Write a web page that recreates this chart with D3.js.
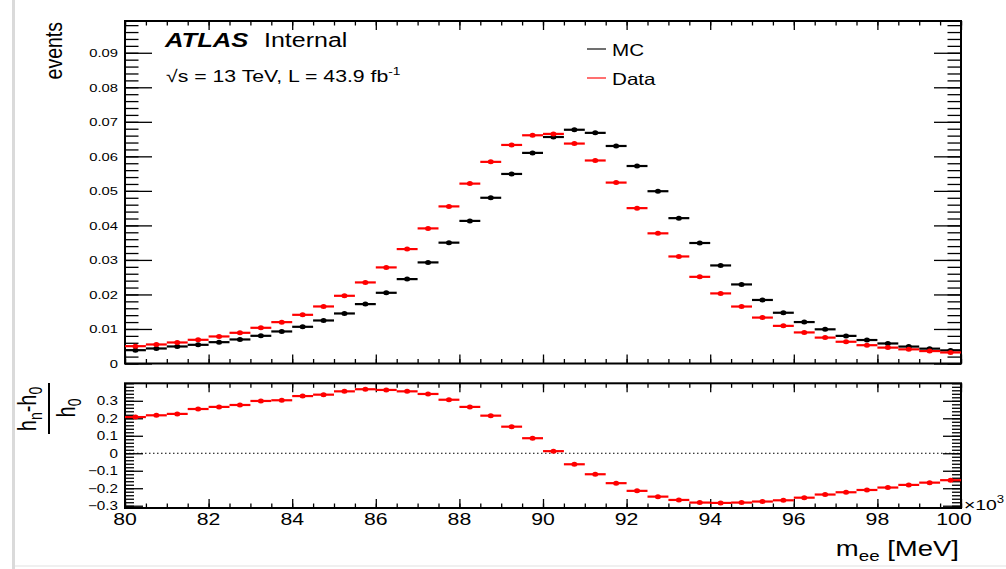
<!DOCTYPE html>
<html>
<head>
<meta charset="utf-8">
<script src="https://cdn.jsdelivr.net/npm/d3@7"></script>
<style>
  body { margin: 0; background: #fff; }
  text { font-family: "Liberation Sans", Arial, Helvetica, sans-serif; fill: #000; }
</style>
</head>
<body>
<svg id="chart" width="1006" height="569"></svg>
<script>
// bins: 40 bins of 0.5 between 80 and 100 (x10^3 in the label)
var xMin = 80, xMax = 100, binW = 0.5;
var binCenters = d3.range(xMin + binW / 2, xMax, binW);

// MC histogram (black)
var mcValues = [0.00386, 0.00435, 0.00493, 0.00541, 0.00618, 0.00696, 0.00802, 0.00928, 0.01063, 0.01246,
                0.01449, 0.01720, 0.02048, 0.02444, 0.02928, 0.0350, 0.0413, 0.0480, 0.0549, 0.0610,
                0.0656, 0.0677, 0.0668, 0.0630, 0.0572, 0.0499, 0.0421, 0.0349, 0.0284, 0.0229,
                0.0184, 0.0147, 0.0120, 0.0099, 0.0080, 0.0068, 0.0058, 0.0049, 0.0043, 0.0038];

// Data histogram (red)
var dataValues = [0.00502, 0.00551, 0.00609, 0.00686, 0.00783, 0.00889, 0.01034, 0.01198, 0.01410, 0.01652,
                  0.01961, 0.02348, 0.02783, 0.03314, 0.03913, 0.0455, 0.0521, 0.0584, 0.0633, 0.0661,
                  0.0665, 0.0637, 0.0588, 0.0524, 0.0450, 0.0377, 0.0310, 0.0251, 0.0203, 0.0165,
                  0.0133, 0.0109, 0.0090, 0.0075, 0.0063, 0.0053, 0.0046, 0.0041, 0.0036, 0.0032];

// lower pad (h_n - h_0)/h_0
var ratioValues = [0.207, 0.217, 0.225, 0.253, 0.265, 0.276, 0.299, 0.303, 0.327, 0.335,
                   0.354, 0.366, 0.362, 0.354, 0.339, 0.306, 0.265, 0.215, 0.152, 0.086,
                   0.012, -0.063, -0.120, -0.171, -0.215, -0.248, -0.267, -0.282, -0.284, -0.282,
                   -0.276, -0.269, -0.254, -0.236, -0.223, -0.210, -0.196, -0.181, -0.168, -0.154];

var topTicks = [0, 0.01, 0.02, 0.03, 0.04, 0.05, 0.06, 0.07, 0.08, 0.09];
var ratioTicks = [-0.3, -0.2, -0.1, 0, 0.1, 0.2, 0.3];
var xTicks = [80, 82, 84, 86, 88, 90, 92, 94, 96, 98, 100];
var legendItems = ["MC", "Data"];

var svg = d3.select("#chart");
var SX = 1.25;   // the picture is stretched sideways, text too

var x = d3.scaleLinear().domain([xMin, xMax]).range([125, 961]);
var yTop = d3.scaleLinear().domain([0, 0.0992]).range([363.5, 21]);
var yRat = d3.scaleLinear().domain([-0.313, 0.4]).range([508, 383.3]);

var colors = d3.scaleOrdinal().domain(legendItems).range(["#000000", "#ff0000"]);

// edge of the screenshot
svg.append("rect").attr("x", 12).attr("y", 0).attr("width", 3).attr("height", 569).attr("fill", "#dadada");
svg.append("rect").attr("x", 15).attr("y", 565).attr("width", 991).attr("height", 2).attr("fill", "#f0f0f0");

function label(g, px, py, txt, size, anchor) {
  return g.append("text")
    .attr("transform", "translate(" + px + "," + py + ") scale(" + SX + ",1)")
    .attr("text-anchor", anchor || "start")
    .style("font-size", size + "px")
    .text(txt);
}

/********** ticks, ROOT style: inside on all four sides **********/
function drawTicks(yScale, yMajor, yMinor, yMajLen, yMinLen) {
  var r = yScale.range();
  var g = svg.append("g");
  var xMinor = d3.range(xMin, xMax + 0.001, 0.5);

  g.append("g").attr("transform", "translate(0," + r[0] + ")")
    .call(d3.axisBottom(x).tickValues(xMinor).tickSize(-4.5).tickFormat(""));
  g.append("g").attr("transform", "translate(0," + r[0] + ")")
    .call(d3.axisBottom(x).tickValues(xTicks).tickSize(-9).tickFormat(""));
  g.append("g").attr("transform", "translate(0," + r[1] + ")")
    .call(d3.axisTop(x).tickValues(xMinor).tickSize(-4.5).tickFormat(""));
  g.append("g").attr("transform", "translate(0," + r[1] + ")")
    .call(d3.axisTop(x).tickValues(xTicks).tickSize(-9).tickFormat(""));

  g.append("g").attr("transform", "translate(" + x(xMin) + ",0)")
    .call(d3.axisLeft(yScale).tickValues(yMinor).tickSize(-yMinLen).tickFormat(""));
  g.append("g").attr("transform", "translate(" + x(xMin) + ",0)")
    .call(d3.axisLeft(yScale).tickValues(yMajor).tickSize(-yMajLen).tickFormat(""));
  g.append("g").attr("transform", "translate(" + x(xMax) + ",0)")
    .call(d3.axisRight(yScale).tickValues(yMinor).tickSize(-yMinLen).tickFormat(""));
  g.append("g").attr("transform", "translate(" + x(xMax) + ",0)")
    .call(d3.axisRight(yScale).tickValues(yMajor).tickSize(-yMajLen).tickFormat(""));

  g.selectAll(".domain").remove();
  g.selectAll(".tick line").attr("stroke", "#000").attr("stroke-width", 1.3);

  // frame
  svg.append("rect")
    .attr("x", x(xMin)).attr("y", r[1])
    .attr("width", x(xMax) - x(xMin)).attr("height", r[0] - r[1])
    .attr("fill", "none").attr("stroke", "#000").attr("stroke-width", 2);
}

var topMinor = d3.range(0, 0.0992, 0.002);
var ratMinor = d3.range(-0.30, 0.401, 0.02);
drawTicks(yTop, topTicks, topMinor, 27, 13.5);
drawTicks(yRat, ratioTicks, ratMinor, 18, 9);

/********** points with x error bars **********/
function drawPoints(g, values, yScale, color) {
  var pts = g.selectAll(".pt").data(values).enter().append("g");
  pts.append("line")
    .attr("x1", function(d, i) { return x(binCenters[i] - binW / 2); })
    .attr("x2", function(d, i) { return x(binCenters[i] + binW / 2); })
    .attr("y1", function(d) { return yScale(d); })
    .attr("y2", function(d) { return yScale(d); })
    .attr("stroke", color).attr("stroke-width", 2.2);
  pts.append("ellipse")
    .attr("cx", function(d, i) { return x(binCenters[i]); })
    .attr("cy", function(d) { return yScale(d); })
    .attr("rx", 3).attr("ry", 2.5)
    .attr("fill", color);
}

var plot = svg.append("g");
drawPoints(plot.append("g"), mcValues, yTop, colors("MC"));
drawPoints(plot.append("g"), dataValues, yTop, colors("Data"));

// zero line in ratio pad
svg.append("line")
  .attr("x1", x(xMin)).attr("x2", x(xMax))
  .attr("y1", yRat(0)).attr("y2", yRat(0))
  .attr("stroke", "#000").attr("stroke-width", 1).attr("stroke-dasharray", "1.5,2.5");
drawPoints(svg.append("g"), ratioValues, yRat, "#ff0000");

/********** tick labels **********/
var labels = svg.append("g");
topTicks.forEach(function(t) {
  label(labels, 118, yTop(t), t === 0 ? "0" : d3.format(".2f")(t), 11.8, "end").attr("dy", "0.36em");
});
ratioTicks.forEach(function(t) {
  label(labels, 118, yRat(t), t === 0 ? "0" : d3.format(".1f")(t).replace("-", "\u2212"), 12.2, "end").attr("dy", "0.36em");
});
xTicks.forEach(function(t) {
  var px = x(t);
  if (t === xMax) px -= 7;
  label(labels, px, 525, String(t), 17, "middle");
});
// exponent squeezed in at the right edge
var expo = label(labels, 964, 510, "\u00d710", 15.5, "start");
expo.append("tspan").attr("dy", -7).style("font-size", "10.5px").text("3");

// axis titles
var xt = label(svg, 959, 556, "m", 22, "end");
xt.append("tspan").attr("dy", 5).style("font-size", "15px").text("ee");
xt.append("tspan").attr("dy", -5).text(" [MeV]");

svg.append("text")
  .attr("transform", "translate(62,22) scale(" + SX + ",1) rotate(-90)")
  .attr("text-anchor", "end")
  .style("font-size", "19.5px")
  .text("events");

// (h_n - h_0) / h_0
var fr = svg.append("g");
var num = fr.append("text")
  .attr("transform", "translate(36,409) scale(" + SX + ",1) rotate(-90)")
  .attr("text-anchor", "middle").style("font-size", "20px");
num.append("tspan").text("h");
num.append("tspan").attr("dy", 5).style("font-size", "14px").text("n");
num.append("tspan").attr("dy", -5).text("-h");
num.append("tspan").attr("dy", 5).style("font-size", "14px").text("0");
fr.append("line").attr("x1", 49).attr("x2", 49).attr("y1", 383).attr("y2", 434)
  .attr("stroke", "#000").attr("stroke-width", 2);
var den = fr.append("text")
  .attr("transform", "translate(75,408) scale(" + SX + ",1) rotate(-90)")
  .attr("text-anchor", "middle").style("font-size", "20px");
den.append("tspan").text("h");
den.append("tspan").attr("dy", 5).style("font-size", "14px").text("0");

/********** ATLAS label **********/
var atl = label(svg, 165, 47, "ATLAS", 20.5, "start").style("font-weight", "bold").style("font-style", "italic");
label(svg, 264, 47, "Internal", 20, "start");
var lumi = label(svg, 166, 82, "\u221as = 13 TeV, L = 43.9 fb", 17, "start");
lumi.append("tspan").attr("dy", -7).style("font-size", "11px").text("-1");

/********** legend **********/
var legend = svg.selectAll(".legend")
  .data(legendItems)
  .enter().append("g")
  .attr("class", "legend")
  .attr("transform", function(d, i) { return "translate(587," + (49 + i * 29) + ")"; });
legend.append("line")
  .attr("x1", 0).attr("x2", 19).attr("y1", 0).attr("y2", 0)
  .attr("stroke", function(d) { return colors(d); })
  .attr("stroke-width", 1.5).attr("stroke-opacity", 0.75);
legend.each(function(d) {
  label(d3.select(this), 25, 6.5, d, 16.5, "start");
});
</script>
</body>
</html>
